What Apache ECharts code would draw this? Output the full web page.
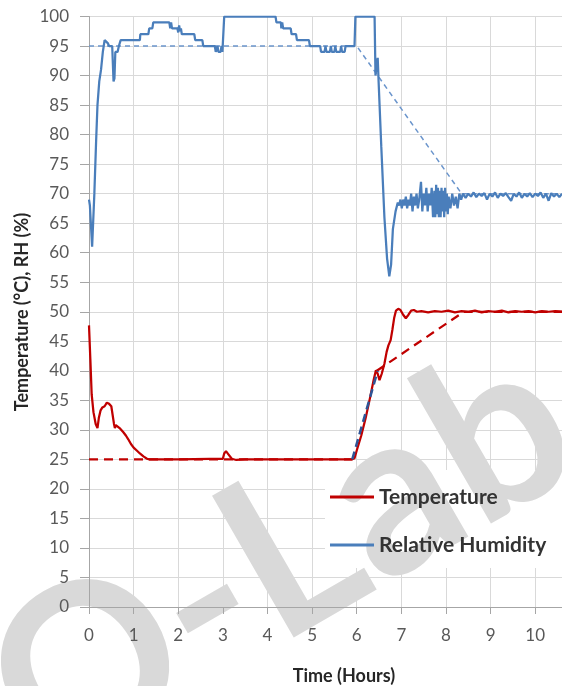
<!DOCTYPE html>
<html>
<head>
<meta charset="utf-8">
<script src="https://cdn.jsdelivr.net/npm/echarts@6/dist/echarts.min.js"></script>
<style>
  html, body { margin: 0; padding: 0; background: #fff; }
  #chart { width: 562px; height: 686px; }
</style>
</head>
<body>
<div id="chart"></div>
<script>
// time in hours
const rhTime = [
  0, 0.02, 0.07, 0.12, 0.16, 0.19, 0.23, 0.27, 0.31, 0.35, 0.38, 0.42, 0.45, 0.52, 0.55, 0.57, 0.59, 0.64, 0.67, 0.71,
  1.14, 1.15, 1.33, 1.35, 1.42, 1.44, 1.8, 1.82, 1.84, 1.86, 1.98, 2.0, 2.02, 2.04, 2.06, 2.08, 2.36, 2.38, 2.54, 2.56,
  2.82, 2.84, 2.87, 2.88, 2.9, 2.95, 2.97, 2.99, 3.02, 3.03, 4.18, 4.2, 4.3, 4.31, 4.33, 4.35, 4.52, 4.54, 4.64, 4.66,
  4.93, 4.95, 5.18, 5.2, 5.28, 5.3, 5.32, 5.4, 5.42, 5.44, 5.5, 5.52, 5.54, 5.63, 5.65, 5.67, 5.73, 5.75, 5.95, 5.97,
  6.4, 6.42, 6.45, 6.47, 6.49, 6.55, 6.62, 6.68, 6.73, 6.77, 6.81, 6.87, 6.92,
  6.95, 6.98, 7.01, 7.04, 7.07, 7.1, 7.13, 7.16, 7.19, 7.22, 7.25, 7.28, 7.31, 7.34, 7.37, 7.4, 7.44, 7.47, 7.5, 7.53,
  7.56, 7.59, 7.62, 7.65, 7.68, 7.71, 7.74, 7.76, 7.78, 7.8, 7.82, 7.84, 7.86, 7.88, 7.9, 7.92, 7.94, 7.96, 7.98, 8.0,
  8.02, 8.04, 8.06, 8.1, 8.14, 8.18, 8.22, 8.26, 8.3, 8.34,
  8.38, 8.44, 8.5, 8.56, 8.62, 8.68, 8.74, 8.8, 8.86, 8.92, 8.98, 9.04, 9.1, 9.16, 9.22, 9.28, 9.34, 9.4, 9.46, 9.52,
  9.58, 9.64, 9.7, 9.76, 9.82, 9.88, 9.94, 10.0, 10.06, 10.12, 10.18, 10.24, 10.3, 10.36, 10.42, 10.48, 10.54, 10.6,
];
const rhValue = [
  69, 68, 61, 70, 79, 85, 89, 91, 94, 96, 96, 95.5, 95, 95, 89, 89.5, 94, 94, 95, 96,
  96, 97, 97, 98, 98, 99, 99, 98, 99, 98, 98, 97.3, 98.5, 97.5, 98, 97, 97, 96, 96, 95,
  95, 94, 94, 95, 94, 94, 95, 94, 94, 100, 100, 99, 99, 98, 99, 98, 98, 97, 97, 96,
  96, 95, 95, 94, 94, 95, 94, 94, 95, 94, 94, 95, 94, 94, 95, 94, 94, 95, 95, 100,
  100, 90, 92, 93, 89, 78, 66, 59, 56, 58, 64, 67, 68.5,
  68, 69, 67.5, 69, 68, 69.5, 67.5, 69, 68, 70, 67, 69.5, 68, 70, 67.5, 69, 72, 67, 70, 68,
  71, 67, 70, 68, 71, 66, 70.5, 66, 71.5, 66.5, 71, 66, 70.5, 66, 71, 67, 70.5, 66, 71, 67,
  70, 66.5, 69.5, 67.5, 70, 68, 69.5, 67.5, 70, 69,
  70, 69.3, 70, 69.5, 70.2, 69.4, 70, 69.6, 70.1, 69, 70, 69.5, 70.2, 69.3, 70, 69.6, 70.1, 69.4, 68.8, 70,
  69.5, 70.2, 69.3, 70, 69.5, 70.1, 69.4, 70, 69.6, 70.2, 69.3, 70, 68.8, 70.1, 69.5, 70, 69.4, 70,
];

const tempTime = [
  0, 0.03, 0.06, 0.1, 0.15, 0.19, 0.22, 0.26, 0.3, 0.35, 0.4, 0.45, 0.5, 0.54, 0.56, 0.58, 0.6, 0.64, 0.7, 0.77,
  0.83, 0.88, 0.94, 1.0, 1.07, 1.14, 1.22, 1.3, 1.35, 2.0, 2.7, 3.0, 3.03, 3.07, 3.12, 3.2, 3.3, 3.5, 5.9, 5.95,
  6.0, 6.1, 6.2, 6.3, 6.38, 6.43, 6.47, 6.51, 6.56, 6.62, 6.67, 6.71, 6.76, 6.8, 6.84, 6.88, 6.93, 6.98, 7.04, 7.1,
  7.16, 7.22, 7.28, 7.35, 7.45, 7.6, 7.75, 7.9, 8.05, 8.2, 8.35, 8.5, 8.65, 8.8, 8.95, 9.1, 9.25, 9.4, 9.55, 9.7,
  9.85, 10.0, 10.15, 10.3, 10.45, 10.6,
];
const tempValue = [
  47.7, 42, 36, 33, 31, 30.3, 32, 33.3, 33.8, 34, 34.6, 34.4, 34, 33.7, 31, 30.3, 30.8, 30.8, 30.2, 29.6,
  29, 28.4, 27.6, 27, 26.5, 26, 25.5, 25.1, 25, 25, 25.1, 25.1, 26, 26.4, 25.9, 25.1, 24.9, 25, 25, 25.2,
  26.5, 29, 32, 35.5, 38.5, 40.1, 39.5, 38.4, 39.5, 41.2, 43.2, 44.3, 45.2, 47, 49, 50.2, 50.5, 50.3, 49.5, 48.9,
  49.5, 50.2, 50.3, 50, 50.1, 49.9, 50.1, 50, 50.2, 49.9, 50.1, 50, 50.2, 49.9, 50.1, 50, 50.2, 49.9, 50.1, 50,
  50.1, 49.9, 50.1, 50, 50.1, 50,
];

// set points
const rhSetTime = [0, 6.0, 8.35, 10.6];
const rhSetValue = [95, 95, 70, 70];
const tempSetTime = [0, 5.9, null, 6.45, 8.4, 10.6];
const tempSetValue = [25, 25, null, 40, 50, 50];
const rampTime = [5.9, 6.47];
const rampValue = [25, 40];

const xTicks = { min: 0, max: 10.6, interval: 1 };
const yTicks = { min: 0, max: 100, interval: 5 };

const FONT = 'Lato';

function pairs(xs, ys) {
  return xs.map((x, i) => (x === null ? [null, null] : [x, ys[i]]));
}

let chart = null;

function initChart(dom) {
  chart = echarts.init(dom, null, { renderer: 'canvas', devicePixelRatio: 1 });
  return chart;
}

const axisGray = '#a6a6a6';
const gridGray = '#d9d9d9';
const labelStyle = { fontFamily: FONT, fontSize: 17, color: '#595959', margin: 20 };

// axis 0 only draws the grid lines (under the watermark),
// axis 1 draws line, ticks and labels on top of it
const option = {
  animation: false,
  backgroundColor: '#ffffff',
  grid: { left: 89, right: 0, top: 16.5, bottom: 79, outerBoundsMode: 'none' },
  xAxis: [
    {
      type: 'value', min: xTicks.min, max: xTicks.max, interval: xTicks.interval, z: 0,
      axisLine: { show: false }, axisTick: { show: false }, axisLabel: { show: false },
      splitLine: { show: true, lineStyle: { color: gridGray, width: 1 } },
    },
    {
      type: 'value', position: 'bottom', min: xTicks.min, max: xTicks.max, interval: xTicks.interval, z: 3,
      axisLine: { show: true, lineStyle: { color: axisGray, width: 1 } },
      axisTick: { show: true, length: 7, lineStyle: { color: axisGray } },
      axisLabel: { ...labelStyle, showMaxLabel: false },
      splitLine: { show: false },
    },
  ],
  yAxis: [
    {
      type: 'value', min: yTicks.min, max: yTicks.max, interval: yTicks.interval, z: 0,
      axisLine: { show: false }, axisTick: { show: false }, axisLabel: { show: false },
      splitLine: { show: true, lineStyle: { color: gridGray, width: 1 } },
    },
    {
      type: 'value', position: 'left', min: yTicks.min, max: yTicks.max, interval: yTicks.interval, z: 3,
      axisLine: { show: true, lineStyle: { color: axisGray, width: 1 } },
      axisTick: { show: true, length: 9, lineStyle: { color: axisGray } },
      axisLabel: labelStyle,
      splitLine: { show: false },
    },
  ],
  legend: {
    data: ['Temperature', 'Relative Humidity'],
    orient: 'vertical',
    left: 325,
    top: 470,
    padding: [16, 5, 12, 5],
    icon: 'rect',
    itemWidth: 44,
    itemHeight: 3,
    itemGap: 26,
    selectedMode: false,
    textStyle: { fontFamily: FONT, fontSize: 21, fontWeight: 'bold', color: '#333333', lineHeight: 22 },
  },
  graphic: [
    // white box behind the legend
    { type: 'rect', z: 1, z2: 0, silent: true, shape: { x: 325, y: 470, width: 237, height: 98 }, style: { fill: '#ffffff' } },
    // watermark, centred on its middle
    {
      type: 'text', z: 1, z2: 1, silent: true, x: 282, y: 560, rotation: Math.PI / 6,
      style: { text: 'Q-Lab', fontFamily: FONT, fontSize: 226, fontWeight: 'bold', fill: '#d9d9d9', textAlign: 'center', textVerticalAlign: 'middle', align: 'center', verticalAlign: 'middle' },
    },
    {
      type: 'text', z: 10, silent: true, x: 344, y: 676,
      style: { text: 'Time (Hours)', fontFamily: FONT, fontSize: 18, fontWeight: 'bold', fill: '#262626', textAlign: 'center', textVerticalAlign: 'middle', align: 'center', verticalAlign: 'middle' },
    },
    {
      type: 'text', z: 10, silent: true, x: 22, y: 312, rotation: Math.PI / 2,
      style: { text: 'Temperature (°C), RH (%)', fontFamily: FONT, fontSize: 18, fontWeight: 'bold', fill: '#262626', textAlign: 'center', textVerticalAlign: 'middle', align: 'center', verticalAlign: 'middle' },
    },
  ],
  series: [
    {
      name: 'RH set point',
      type: 'line',
      data: pairs(rhSetTime, rhSetValue),
      showSymbol: false,
      symbol: 'none',
      z: 3,
      lineStyle: { color: '#6b95cc', width: 1.5, type: [5, 4] },
      itemStyle: { color: '#6b95cc' },
    },
    {
      name: 'Temperature set point',
      type: 'line',
      data: pairs(tempSetTime, tempSetValue),
      showSymbol: false,
      symbol: 'none',
      connectNulls: false,
      z: 3,
      lineStyle: { color: '#c00000', width: 2.25, type: [9, 6] },
      itemStyle: { color: '#c00000' },
    },
    {
      name: 'Temperature',
      type: 'line',
      data: pairs(tempTime, tempValue),
      showSymbol: false,
      symbol: 'none',
      z: 4,
      lineStyle: { color: '#c00000', width: 2.25 },
      itemStyle: { color: '#c00000' },
    },
    {
      name: 'Relative Humidity',
      type: 'line',
      data: pairs(rhTime, rhValue),
      showSymbol: false,
      symbol: 'none',
      z: 4,
      lineStyle: { color: '#4a7ebb', width: 2.25 },
      itemStyle: { color: '#4a7ebb' },
    },
    {
      name: 'Ramp',
      type: 'line',
      data: pairs(rampTime, rampValue),
      showSymbol: false,
      symbol: 'none',
      z: 5,
      lineStyle: { color: '#2f5597', width: 2.5, type: [8, 5] },
      itemStyle: { color: '#2f5597' },
    },
  ],
};

initChart(document.getElementById('chart'));
chart.setOption(option);
</script>
</body>
</html>
